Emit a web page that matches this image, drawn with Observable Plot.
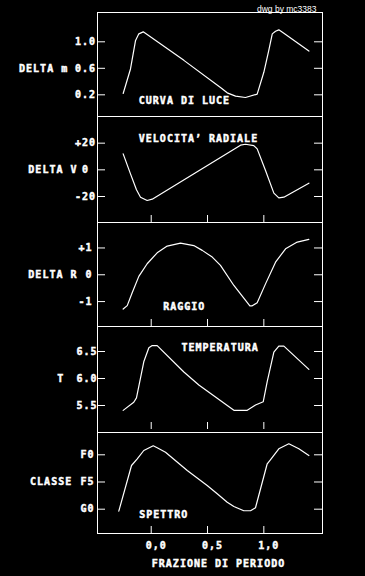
<!DOCTYPE html>
<html><head><meta charset="utf-8">
<script src="https://cdn.jsdelivr.net/npm/d3@7"></script>
<script src="https://cdn.jsdelivr.net/npm/@observablehq/plot@0.6"></script>
<style>
html,body{margin:0;padding:0;background:#000;}
#chart{position:relative;width:365px;height:576px;overflow:hidden;background:#000;}
#chart svg{position:absolute;left:0;letter-spacing:1px;}
#chart svg text{stroke:#fff;stroke-width:0.45px;}
#chart g[font-family="Liberation Sans"] text{letter-spacing:0;stroke:none;}
</style></head><body><div id="chart"></div>
<script>
// ---- data ----
const xTicks = [0, 0.5, 1];
const xTickLabels = ["0,0", "0,5", "1,0"];
const xTitle = "FRAZIONE DI PERIODO";
const credit = "dwg by mc3383";

const lucePhase = [-0.249, -0.184, -0.139, -0.110, -0.071, -0.036, 0.290, 0.615, 0.675, 0.749, 0.837, 0.941, 1.000, 1.044, 1.075, 1.104, 1.133, 1.178, 1.400];
const luceValues = [0.22, 0.59, 1.02, 1.12, 1.15, 1.11, 0.72, 0.31, 0.23, 0.18, 0.16, 0.21, 0.54, 0.87, 1.12, 1.16, 1.18, 1.13, 0.86];
const luceTicks = [0.2, 0.6, 1.0];
const luceTickLabels = ["0.2", "0.6", "1.0"];

const velPhase = [-0.249, -0.184, -0.131, -0.095, -0.036, 0.009, 0.793, 0.837, 0.911, 0.941, 1.015, 1.089, 1.133, 1.178, 1.400];
const velValues = [12, -3, -15, -20.5, -23, -22, 18.5, 19.2, 18.2, 15.7, -0.5, -17.5, -21, -20.5, -10];
const velTicks = [-20, 0, 20];
const velTickLabels = ["-20", "0\u00a0", "+20"];

const raggioPhase = [-0.249, -0.213, -0.169, -0.110, -0.036, 0.053, 0.142, 0.260, 0.378, 0.453, 0.542, 0.615, 0.734, 0.876, 0.897, 0.941, 1.015, 1.104, 1.193, 1.297, 1.400];
const raggioValues = [-1.28, -1.15, -0.67, -0.06, 0.41, 0.82, 1.07, 1.18, 1.09, 0.91, 0.66, 0.35, -0.40, -1.16, -1.16, -1.04, -0.34, 0.47, 0.97, 1.22, 1.32];
const raggioTicks = [-1, 0, 1];
const raggioTickLabels = ["-1", "0", "+1"];

const tempPhase = [-0.249, -0.155, -0.131, -0.066, -0.021, 0.009, 0.053, 0.290, 0.423, 0.734, 0.853, 0.926, 0.995, 1.030, 1.089, 1.133, 1.178, 1.400];
const tempValues = [5.41, 5.56, 5.64, 6.31, 6.57, 6.61, 6.61, 6.12, 5.88, 5.41, 5.41, 5.51, 5.57, 5.94, 6.49, 6.60, 6.60, 6.17];
const tempTicks = [5.5, 6.0, 6.5];
const tempTickLabels = ["5.5", "6.0", "6.5"];

const spettroPhase = [-0.288, -0.175, -0.124, -0.066, 0.018, 0.053, 0.127, 0.320, 0.497, 0.586, 0.675, 0.734, 0.822, 0.882, 0.926, 1.030, 1.053, 1.133, 1.222, 1.311, 1.400];
const spettroValues = [10.37, 1.97, 0.74, -0.79, -1.65, -1.29, -0.48, 2.89, 5.64, 7.17, 8.71, 9.50, 10.29, 10.29, 9.74, 1.65, 1.05, -1.10, -2.02, -1.10, 0.13];
const spettroTicks = [0, 5, 10];
const spettroTickLabels = ["F0", "F5", "G0"];

const titles = ["DELTA m", "DELTA V", "DELTA R", "T", "CLASSE"];
const names = ["CURVA DI LUCE", "VELOCITA\u2019 RADIALE", "RAGGIO", "TEMPERATURA", "SPETTRO"];

// ---- layout ----
const W = 365, ML = 97, MR = 43;
const FW = W - ML - MR;
const xDomain = [-0.477, 1.521];

function panel(o) {
  const data = o.phase.map((p, i) => ({p, v: o.values[i]}));
  const H = o.bottom - o.top + o.mt + o.mb;
  const fh = o.bottom - o.top;
  const fmt = d => o.labels[o.ticks.indexOf(d)];
  const marks = [
    Plot.frame({stroke: "white", strokeWidth: 1}),
    Plot.tickY(o.ticks, {y: d => d, stroke: "white", insetRight: FW - 8}),
    Plot.tickY(o.ticks, {y: d => d, stroke: "white", insetLeft: FW - 8}),
    Plot.axisY(o.ticks, {tickSize: 0, tickPadding: o.tickPad, tickFormat: fmt, label: null}),
    Plot.text([o.title], {frameAnchor: "left", y: o.ticks[1], textAnchor: "end", dx: o.titleDx}),
    Plot.text([o.name], {frameAnchor: o.nameAnchor, textAnchor: "start", dx: o.nameDx, dy: o.nameDy}),
    Plot.line(data, {x: "p", y: "v", stroke: "white", strokeWidth: 1.2})
  ];
  if (o.xticks) marks.push(Plot.tickX(xTicks, {x: d => d, stroke: "white", insetTop: fh - 7 - (o.xtickGap || 0), insetBottom: o.xtickGap || 0}));
  if (o.extra) marks.push(...o.extra);
  const svg = Plot.plot({
    width: W, height: H,
    marginLeft: ML, marginRight: MR, marginTop: o.mt, marginBottom: o.mb,
    x: {domain: xDomain, axis: o.xaxis ? undefined : null},
    y: {domain: o.yDomain},
    style: {background: "transparent", color: "white", fontFamily: "DejaVu Sans Mono", fontSize: "10px", fontWeight: "bold", overflow: "visible"},
    marks
  });
  svg.style.top = (o.top - o.mt) + "px";
  document.getElementById("chart").appendChild(svg);
}

panel({phase: lucePhase, values: luceValues, ticks: luceTicks, labels: luceTickLabels,
  yDomain: [-0.127, 1.442], top: 12, bottom: 116, mt: 12, mb: 2, tickPad: 1.5,
  title: titles[0], titleDx: -29.3, name: names[0], nameAnchor: "bottom-left", nameDx: 41.3, nameDy: -12.7,
  extra: [Plot.text([credit], {frameAnchor: "top-right", textAnchor: "end", dx: -6, dy: -6.5, fontFamily: "Liberation Sans", fontWeight: "normal", fontSize: 8.5})]});

panel({phase: velPhase, values: velValues, ticks: velTicks, labels: velTickLabels,
  yDomain: [-39.5, 40], top: 116, bottom: 222, mt: 2, mb: 2, tickPad: 1.5, xticks: true,
  title: titles[1], titleDx: -20, name: names[1], nameAnchor: "top-left", nameDx: 41.3, nameDy: 18.5});

panel({phase: raggioPhase, values: raggioValues, ticks: raggioTicks, labels: raggioTickLabels,
  yDomain: [-1.93, 1.95], top: 222, bottom: 326, mt: 2, mb: 2, tickPad: 5, xticks: true,
  title: titles[2], titleDx: -20, name: names[2], nameAnchor: "bottom-left", nameDx: 65.7, nameDy: -16.5});

panel({phase: tempPhase, values: tempValues, ticks: tempTicks, labels: tempTickLabels,
  yDomain: [5.0, 6.963], top: 326, bottom: 432, mt: 2, mb: 2, tickPad: 0, xticks: true, xtickGap: 3,
  title: titles[3], titleDx: -33.3, name: names[3], nameAnchor: "top-left", nameDx: 84, nameDy: 17.7});

panel({phase: spettroPhase, values: spettroValues, ticks: spettroTicks, labels: spettroTickLabels,
  yDomain: [14.47, -4.10], top: 432, bottom: 533, mt: 2, mb: 43, tickPad: 3, xticks: true, xaxis: true,
  title: titles[4], titleDx: -25.3, name: names[4], nameAnchor: "bottom-left", nameDx: 41.7, nameDy: -15.2,
  extra: [
    Plot.axisX(xTicks, {tickSize: 0, tickPadding: 8, dx: 5, tickFormat: d => xTickLabels[xTicks.indexOf(d)], label: null}),
    Plot.text([xTitle], {frameAnchor: "bottom", dx: 8.5, dy: 33.7})
  ]});
</script>
</body></html>
